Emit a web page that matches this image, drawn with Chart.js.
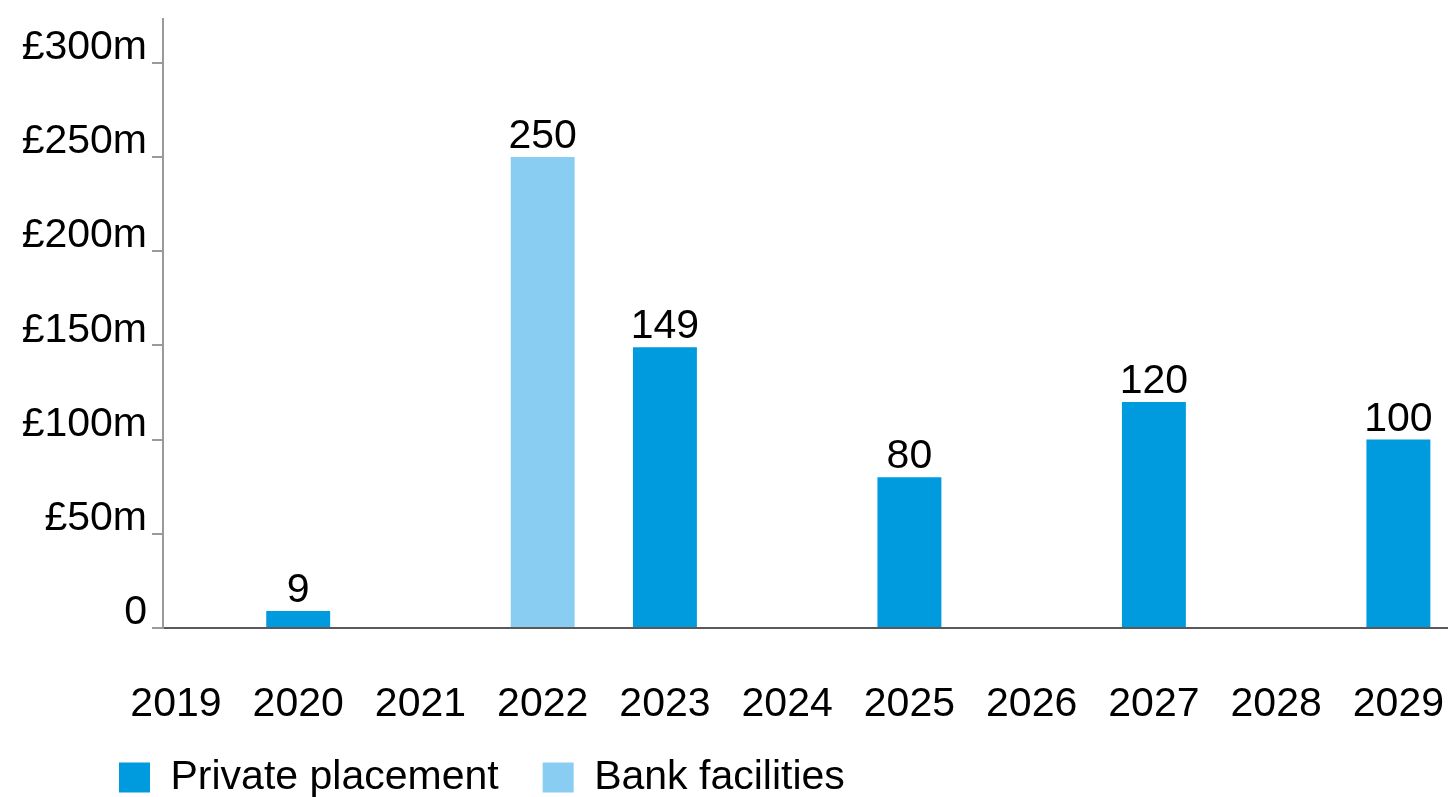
<!DOCTYPE html>
<html>
<head>
<meta charset="utf-8">
<title>Debt maturity profile</title>
<script src="https://cdn.jsdelivr.net/npm/chart.js@4.4.1/dist/chart.umd.min.js"></script>
<style>
  html, body { margin: 0; padding: 0; background: #fff; }
  #wrap { width: 1448px; height: 797px; position: relative; }
</style>
</head>
<body>
<div id="wrap"><canvas id="maturityChart"></canvas></div>
<script>
// Maturity years and amounts (£m)
const years = [2019, 2020, 2021, 2022, 2023, 2024, 2025, 2026, 2027, 2028, 2029];
const privatePlacement = [null, 9, null, null, 149, null, 80, null, 120, null, 100];
const bankFacilities = [null, null, null, 250, null, null, null, null, null, null, null];
const yTicks = [0, 50, 100, 150, 200, 250, 300];

const FONT = '"Liberation Sans", Arial, Helvetica, sans-serif';
const FONT_SIZE = 41;
Chart.defaults.font.family = FONT;
Chart.defaults.color = '#000';

// turn a series into {x, y} points, dropping the empty years
function toPoints(values) {
    return years
        .map((year, i) => ({ x: year, y: values[i] }))
        .filter((p) => p.y !== null);
}

// Print the value above every bar
const barValueLabels = {
    id: 'barValueLabels',
    afterDatasetsDraw(chart) {
        const ctx = chart.ctx;
        ctx.save();
        ctx.font = FONT_SIZE + 'px ' + FONT;
        ctx.fillStyle = '#000';
        ctx.textAlign = 'center';
        ctx.textBaseline = 'alphabetic';
        chart.data.datasets.forEach((ds, i) => {
            chart.getDatasetMeta(i).data.forEach((bar, j) => {
                ctx.fillText(ds.data[j].y, bar.x, bar.y - 9);
            });
        });
        ctx.restore();
    }
};

// The legend sits indented under the axis labels, a bit higher than Chart.js puts it
const legendNudge = {
    id: 'legendNudge',
    afterLayout(chart) {
        chart.legend.left += 75;
        chart.legend.top -= 8;
    }
};

const ctx = document.getElementById('maturityChart');
new Chart(ctx, {
    type: 'bar',
    data: {
        datasets: [{
            label: 'Private placement',
            data: toPoints(privatePlacement),
            backgroundColor: '#009ade',
            borderWidth: 0,
            grouped: false,
            categoryPercentage: 1,
            barPercentage: 0.523
        }, {
            label: 'Bank facilities',
            data: toPoints(bankFacilities),
            backgroundColor: '#89cdf3',
            borderWidth: 0,
            grouped: false,
            categoryPercentage: 1,
            barPercentage: 0.523
        }]
    },
    plugins: [barValueLabels, legendNudge],
    options: {
        responsive: true,
        maintainAspectRatio: false,
        animation: false,
        layout: {
            padding: { left: 0, top: 19, right: 0, bottom: -19 }
        },
        plugins: {
            legend: {
                position: 'bottom',
                align: 'start',
                labels: {
                    boxWidth: 31,
                    boxHeight: 30,
                    padding: 44,
                    color: '#000',
                    font: { size: FONT_SIZE }
                }
            },
            tooltip: { enabled: false }
        },
        scales: {
            x: {
                type: 'linear',
                offset: false,
                min: 2018.894,
                max: 2029.4,
                afterBuildTicks: (axis) => {
                    axis.ticks = years.map((v) => ({ value: v }));
                },
                afterFit: (axis) => {
                    axis.height = 93;
                },
                ticks: {
                    autoSkip: false,
                    maxRotation: 0,
                    padding: 4,
                    color: '#000',
                    font: { size: FONT_SIZE, lineHeight: 3.54 },
                    callback: (value) => String(value)
                },
                grid: { display: false, drawTicks: false },
                border: { display: true, color: '#595959', width: 2 }
            },
            y: {
                min: 0,
                max: 323,
                afterBuildTicks: (axis) => {
                    axis.ticks = yTicks.map((v) => ({ value: v }));
                },
                ticks: {
                    padding: 5,
                    labelOffset: -15,
                    color: '#000',
                    font: { size: FONT_SIZE, lineHeight: 0.7 },
                    callback: (value) => (value === 0 ? '0' : '£' + value + 'm')
                },
                afterFit: (axis) => {
                    axis.width = 163;
                },
                grid: {
                    drawOnChartArea: false,
                    drawTicks: true,
                    tickLength: 11,
                    color: '#9a9a9a',
                    lineWidth: 2
                },
                border: { display: true, color: '#9a9a9a', width: 2 }
            }
        }
    }
});
</script>
</body>
</html>
